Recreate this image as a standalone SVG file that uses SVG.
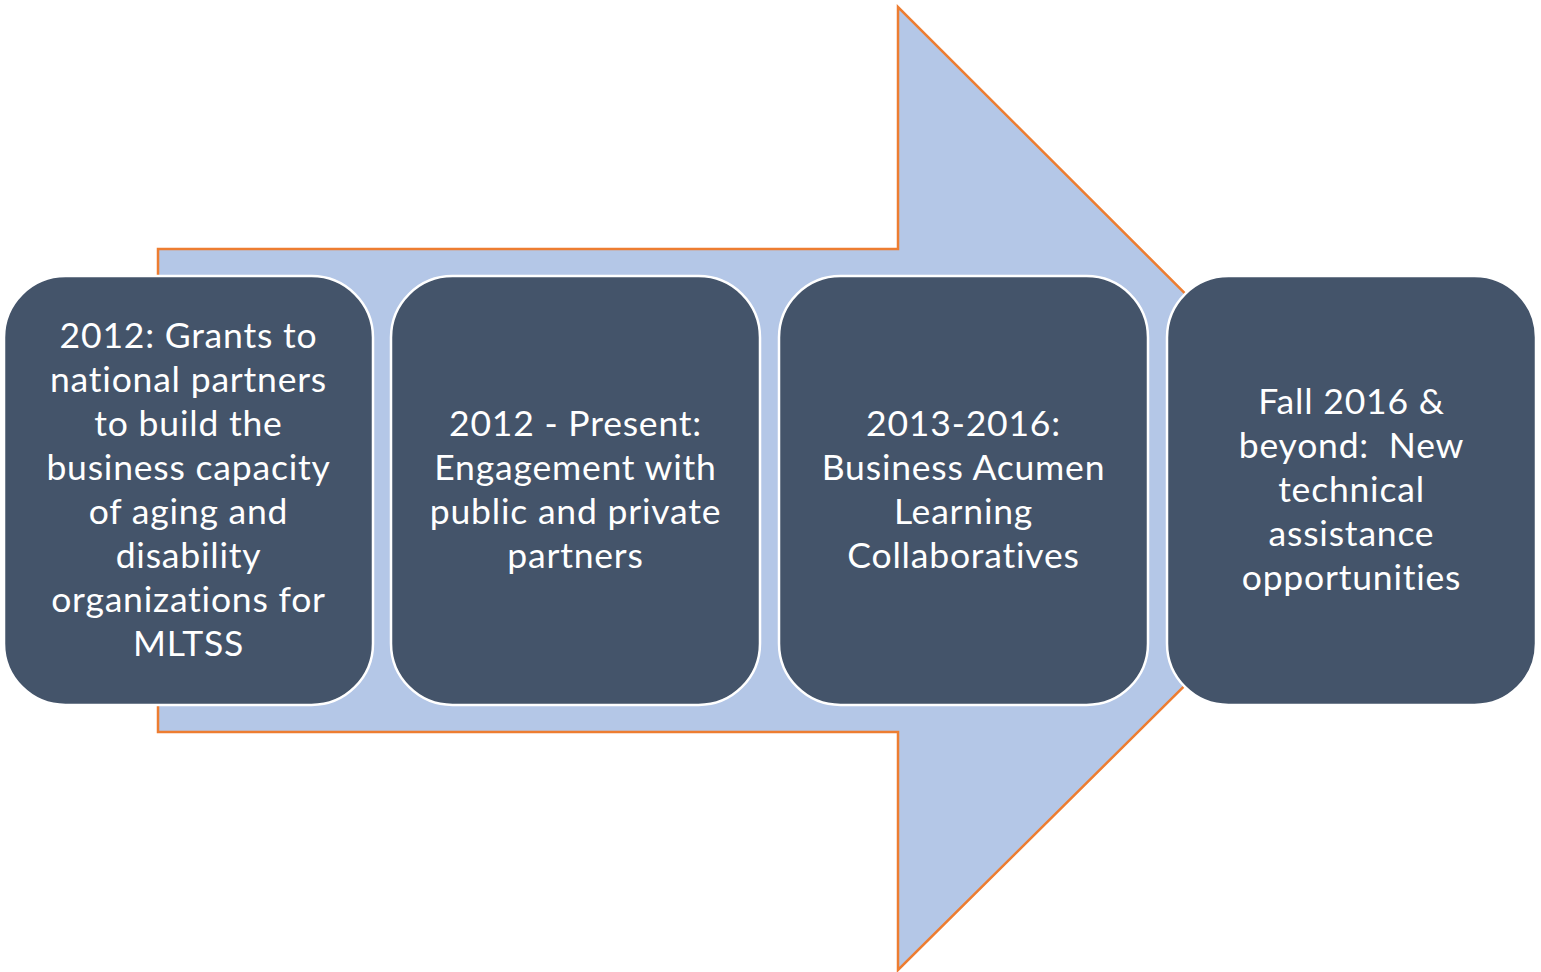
<svg xmlns="http://www.w3.org/2000/svg" width="1541" height="972" viewBox="0 0 1541 972">
<style>
.box{fill:#44546A;stroke:#FFFFFF;stroke-width:2.5}
.t{font-family:Lato,"Open Sans","Liberation Sans",sans-serif;font-size:35.5px;letter-spacing:0.8px;fill:#FFFFFF;text-anchor:middle;white-space:pre}
</style>
<rect width="1541" height="972" fill="#FFFFFF"/>
<g id="arrow">
<polygon points="158,249 898,249 898,7 1382,490 898,970 898,732 158,732" fill="#B4C7E7" stroke="#ED7D31" stroke-width="2.5" stroke-linejoin="miter"/>
</g>
<g id="node1">
<rect class="box" x="4" y="276" width="369" height="429" rx="61.5" ry="61.5"/>
<text class="t" x="188.5" y="348">2012: Grants to</text>
<text class="t" x="188.5" y="392">national partners</text>
<text class="t" x="188.5" y="436">to build the</text>
<text class="t" x="188.5" y="480">business capacity</text>
<text class="t" x="188.5" y="524">of aging and</text>
<text class="t" x="188.5" y="568">disability</text>
<text class="t" x="188.5" y="612">organizations for</text>
<text class="t" x="188.5" y="656">MLTSS</text>
</g>
<g id="node2">
<rect class="box" x="391" y="276" width="369" height="429" rx="61.5" ry="61.5"/>
<text class="t" x="575.5" y="436">2012 - Present:</text>
<text class="t" x="575.5" y="480">Engagement with</text>
<text class="t" x="575.5" y="524">public and private</text>
<text class="t" x="575.5" y="568">partners</text>
</g>
<g id="node3">
<rect class="box" x="779" y="276" width="369" height="429" rx="61.5" ry="61.5"/>
<text class="t" x="963.5" y="436">2013-2016:</text>
<text class="t" x="963.5" y="480">Business Acumen</text>
<text class="t" x="963.5" y="524">Learning</text>
<text class="t" x="963.5" y="568">Collaboratives</text>
</g>
<g id="node4">
<rect class="box" x="1167" y="276" width="369" height="429" rx="61.5" ry="61.5"/>
<text class="t" x="1351.5" y="414">Fall 2016 &amp;</text>
<text class="t" x="1351.5" y="458" xml:space="preserve">beyond:  New</text>
<text class="t" x="1351.5" y="502">technical</text>
<text class="t" x="1351.5" y="546">assistance</text>
<text class="t" x="1351.5" y="590">opportunities</text>
</g>
<g id="connectors"></g>
</svg>
